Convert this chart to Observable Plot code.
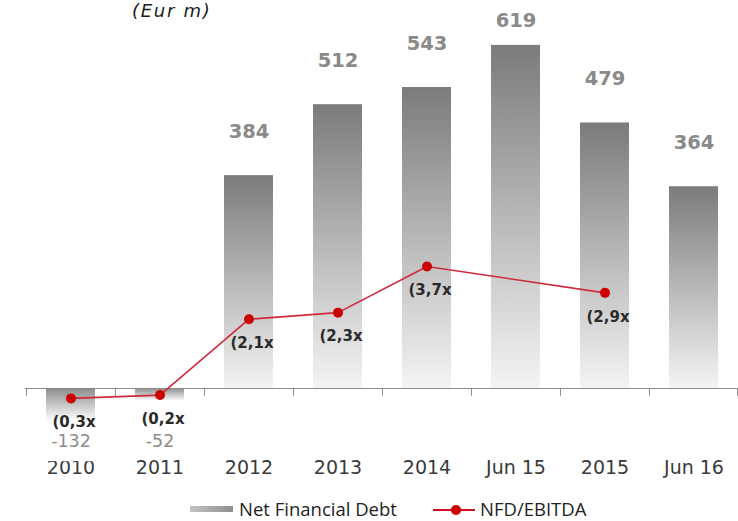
<!DOCTYPE html>
<html>
<head>
<meta charset="utf-8">
<script src="https://cdn.jsdelivr.net/npm/d3@7"></script>
<script src="https://cdn.jsdelivr.net/npm/@observablehq/plot@0.6"></script>
<style>
  html, body { margin: 0; padding: 0; background: #fff; }
  body { width: 738px; height: 521px; position: relative; overflow: hidden; }
  #title { position: absolute; left: 132px; top: 2px; font-family: "DejaVu Sans", sans-serif; font-style: italic; font-size: 18px; line-height: 18px; letter-spacing: 1.7px; color: #1a1a1a; white-space: nowrap; }
  #chart { position: absolute; left: 0; top: 0; }
  #legend { position: absolute; left: 0; top: 480px; }
</style>
</head>
<body>
<div id="chart"></div>
<div id="title">(Eur m)</div>
<div id="legend"></div>
<script>
// ---- data ----
const categories = ["2010", "2011", "2012", "2013", "2014", "Jun 15", "2015", "Jun 16"];
const netFinancialDebt = [-132, -52, 384, 512, 543, 619, 479, 364];
const nfdEbitda = [-0.3, -0.2, 2.1, 2.3, 3.7, null, 2.9, null];
const nfdEbitdaLabels = ["(0,3x", "(0,2x", "(2,1x", "(2,3x", "(3,7x", null, "(2,9x", null];
const seriesNames = ["Net Financial Debt", "NFD/EBITDA"];

// secondary-axis factor: one turn of NFD/EBITDA drawn in Eur m units
const ratioToDebt = 59.5;

const rows = categories.map((c, i) => ({
  cat: c,
  debt: netFinancialDebt[i],
  ratio: nfdEbitda[i],
  ratioLabel: nfdEbitdaLabels[i]
}));
const ratioRows = rows.filter(d => d.ratio != null);
const maxDebt = d3.max(netFinancialDebt);

const W = 738, H = 480, mL = 25, mR = 0, mT = 0, mB = 27;
const step = (W - mL - mR) / categories.length;
const tickLen = 14;

const chart = Plot.plot({
  width: W,
  height: H,
  marginLeft: mL,
  marginRight: mR,
  marginTop: mT,
  marginBottom: mB,
  style: { fontFamily: "DejaVu Sans, sans-serif", fontSize: "19px", color: "#3a3a3a", background: "transparent" },
  x: { domain: categories, paddingInner: 0.45, paddingOuter: 0.225, tickSize: 0, tickPadding: 7, label: null },
  y: { domain: [-117.3, 700], axis: null },
  marks: [
    Plot.barY(rows.filter(d => d.debt >= 0), { x: "cat", y: "debt", fill: "url(#gPos)" }),
    Plot.barY(rows.filter(d => d.debt < 0), { x: "cat", y: "debt", fill: "url(#gNeg)" }),
    Plot.ruleY([0], { stroke: "#8a8a8a", strokeWidth: 1 }),
    Plot.ruleX(categories, { x: d => d, y1: 0, y2: -tickLen, dx: -step / 2, stroke: "#8a8a8a" }),
    Plot.ruleX(categories.slice(-1), { x: d => d, y1: 0, y2: -tickLen, dx: step / 2 - 1, stroke: "#8a8a8a" }),
    // value labels
    Plot.text(rows.filter(d => d.debt >= 0 && d.debt < maxDebt), { x: "cat", y: "debt", text: d => String(d.debt), dy: -44, fill: "#8a8a8a", fontWeight: "bold", fontSize: 19.5, fontFamily: "DejaVu Sans" }),
    Plot.text(rows.filter(d => d.debt === maxDebt), { x: "cat", y: "debt", text: d => String(d.debt), dy: -25, fill: "#8a8a8a", fontWeight: "bold", fontSize: 19.5, fontFamily: "DejaVu Sans" }),
    Plot.text(rows.filter(d => d.debt < 0), { x: "cat", text: d => String(d.debt), frameAnchor: "bottom", dy: -7, fill: "#8c8c8c", fontSize: 17.5, fontFamily: "DejaVu Sans" }),
    // NFD/EBITDA line
    Plot.line(ratioRows, { x: "cat", y: d => d.ratio * ratioToDebt, stroke: "#cf2a3c", strokeWidth: 1.6 }),
    Plot.dot(ratioRows, { x: "cat", y: d => d.ratio * ratioToDebt, r: 5, fill: "#cc0000", stroke: "none" }),
    Plot.text(ratioRows, { x: "cat", y: d => d.ratio * ratioToDebt, text: "ratioLabel", dy: 24, dx: 3, fill: "#2a2a2a", fontWeight: "bold", fontSize: 15, fontFamily: "DejaVu Sans" })
  ]
});

// gradients
const defs = d3.select(chart).insert("defs", ":first-child");
const gPos = defs.append("linearGradient").attr("id", "gPos").attr("x1", 0).attr("y1", 0).attr("x2", 0).attr("y2", 1);
gPos.append("stop").attr("offset", 0).attr("stop-color", "#7b7b7b");
gPos.append("stop").attr("offset", 1).attr("stop-color", "#f4f4f4");
const gNeg = defs.append("linearGradient").attr("id", "gNeg").attr("x1", 0).attr("y1", 0).attr("x2", 0).attr("y2", 1);
gNeg.append("stop").attr("offset", 0).attr("stop-color", "#8c8c8c");
gNeg.append("stop").attr("offset", 0.45).attr("stop-color", "#ffffff");
gNeg.append("stop").attr("offset", 1).attr("stop-color", "#ffffff");
document.getElementById("chart").appendChild(chart);

// legend
const lg = d3.select("#legend").append("svg").attr("width", W).attr("height", 41)
  .style("font-family", "'Open Sans', sans-serif").style("font-size", "18.5px");
const lgDefs = lg.append("defs");
const gL = lgDefs.append("linearGradient").attr("id", "gLeg").attr("x1", 0).attr("y1", 0).attr("x2", 1).attr("y2", 0);
gL.append("stop").attr("offset", 0).attr("stop-color", "#c4c4c4");
gL.append("stop").attr("offset", 1).attr("stop-color", "#8e8e8e");
lg.append("rect").attr("x", 190).attr("y", 26).attr("width", 43).attr("height", 6).attr("fill", "url(#gLeg)");
lg.append("text").attr("x", 239).attr("y", 36).attr("fill", "#222").text(seriesNames[0]);
lg.append("line").attr("x1", 433).attr("x2", 475).attr("y1", 30).attr("y2", 30).attr("stroke", "#cc1122").attr("stroke-width", 2);
lg.append("circle").attr("cx", 456).attr("cy", 30).attr("r", 5).attr("fill", "#cc0000");
lg.append("text").attr("x", 480).attr("y", 36).attr("fill", "#222").text(seriesNames[1]);
</script>
</body>
</html>
